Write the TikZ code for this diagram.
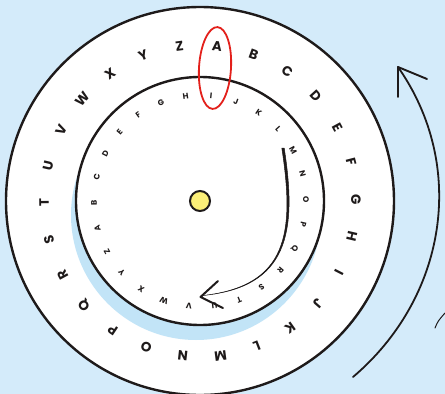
\documentclass[tikz,border=0pt]{standalone}
\usepackage{fontspec}
\setmainfont{Poppins}
\usepackage{xcolor}
\usepackage{tikz}

\definecolor{skyback}{HTML}{D4EBFA}
\definecolor{shadowblue}{HTML}{C2E4F7}
\definecolor{dotyellow}{HTML}{FBEF78}
\definecolor{penred}{HTML}{E3201B}
\definecolor{inkblack}{HTML}{1E1A1A}

\tikzset{
  outletter/.style={font=\fontsize{13.5}{13.5}\selectfont\bfseries, text=inkblack, inner sep=0pt},
  inletter/.style={font=\fontsize{8}{8}\selectfont\bfseries, text=inkblack, inner sep=0pt},
  ring/.style={draw=inkblack, line width=2.4pt, fill=white},
  pen/.style={draw=inkblack, line cap=round, line join=round},
}

\begin{document}
\begin{tikzpicture}[x=1pt,y=1pt]

\fill[skyback] (-200,-193) rectangle (245,201);
\useasboundingbox (-200,-193) rectangle (245,201);

\coordinate (C) at (0,0);

% the two discs
\filldraw[ring] (C) circle (194pt);
\fill[shadowblue] (-4,-14) circle (125pt);
\filldraw[ring] (C) circle (124pt);

% outer alphabet
\foreach \l [count=\i from 0] in {A,B,C,D,E,F,G,H,I,J,K,L,M,N,O,P,Q,R,S,T,U,V,W,X,Y,Z} {
  \pgfmathsetmacro{\a}{83.7-13.846*\i}
  \node[outletter, rotate=\a-90] (out\l) at (\a:156pt) {\l};
}

% inner alphabet, I under A
\foreach \l [count=\i from 0] in {A,B,C,D,E,F,G,H,I,J,K,L,M,N,O,P,Q,R,S,T,U,V,W,X,Y,Z} {
  \pgfmathsetmacro{\a}{84-13.846*(\i-8)}
  \node[inletter, rotate=\a-90] (in\l) at (\a:106pt) {\l};
}

\filldraw[draw=inkblack, fill=dotyellow, line width=2pt] (C) circle (10pt);

% red mark round A and I
\draw[penred, line width=1.8pt, rotate around={-3.5:(15,133)}] (15,133) ellipse [x radius=16pt, y radius=41pt];

% turning arrow inside
\coordinate (S1) at (83,53);
\coordinate (T1) at (0.5,-96);
\filldraw[inkblack, line width=0.5pt] (81.8,53) .. controls (94.8,-32) and (88,-85) .. (3,-94.5)
  .. controls (88,-86) and (97.4,-32) .. (84.2,53) -- cycle;
\draw[pen, line width=2pt] (18,-80) -- (T1) -- (23,-107);

% turning arrow outside
\coordinate (S2) at (153,-176);
\coordinate (T2) at (198,134);
\draw[pen, line width=1.8pt] (S2) .. controls (246,-97) and (268,34) .. (T2);
\draw[pen, line width=1.9pt] (198,104) -- (T2) -- (227,122);
\draw[pen, line width=1pt] (235,-127) .. controls (238,-120) .. (245,-112);

\end{tikzpicture}
\end{document}
